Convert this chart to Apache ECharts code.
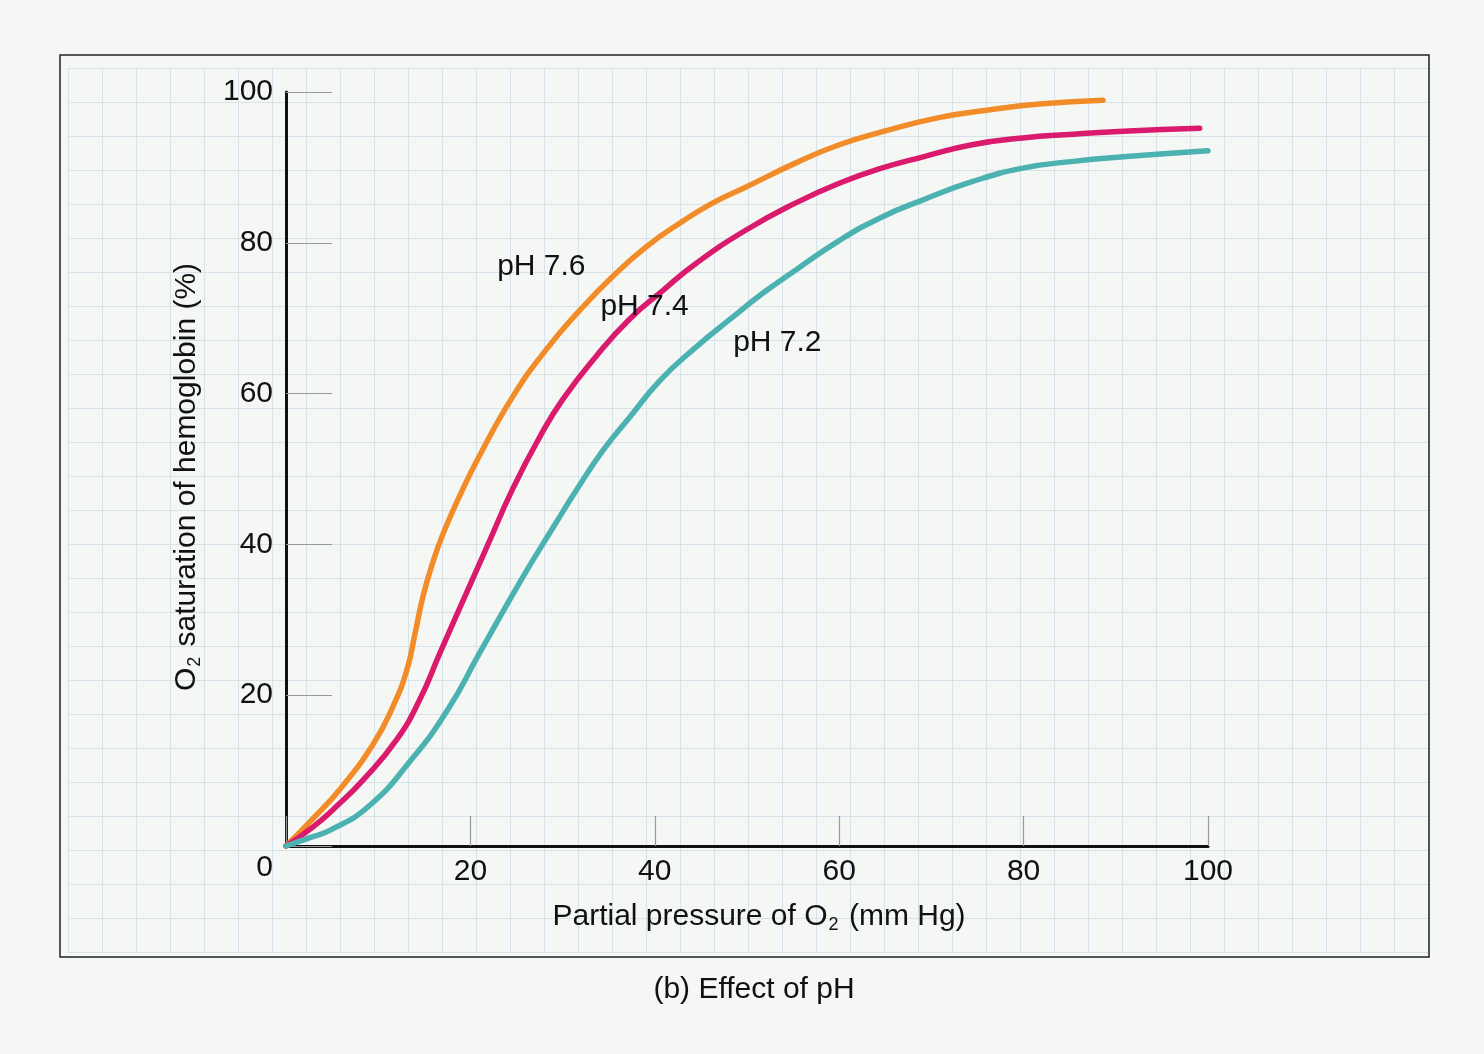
<!DOCTYPE html>
<html>
<head>
<meta charset="utf-8">
<script src="https://cdn.jsdelivr.net/npm/echarts@6/dist/echarts.min.js"></script>
<style>
  html, body { margin: 0; padding: 0; background: #f5f7f4; }
  #chart { width: 1484px; height: 1054px; }
</style>
</head>
<body>
<div id="chart"></div>
<script>
// curves: [pO2 (mm Hg), saturation (%)]
var ph76 = [[0,0],[2.9,3.6],[5.9,7.6],[9.5,13.6],[11.6,18.5],[13.1,23.3],[14.0,28.2],[14.9,33.3],[16.0,37.9],[17.1,41.6],[18.9,46.6],[21.0,51.8],[24.6,59.6],[28.2,65.8],[31.9,71.1],[35.4,75.5],[39.0,79.4],[42.7,82.6],[46.3,85.3],[49.9,87.4],[55.3,90.6],[60.0,93.0],[64.6,94.7],[70.8,96.6],[76.2,97.6],[81.7,98.4],[88.6,98.9]];
var ph74 = [[0,0],[2.9,2.5],[5.6,5.4],[8.4,8.8],[12.0,14.1],[14.5,19.4],[16.7,25.6],[18.9,31.7],[21.8,39.7],[24.6,47.4],[27.5,54.2],[30.0,59.2],[33.6,64.9],[37.2,69.8],[40.9,73.7],[44.5,77.3],[49.9,81.7],[55.3,85.3],[60.0,87.9],[64.6,89.9],[69.1,91.4],[74.4,93.0],[79.9,93.9],[85.4,94.4],[90.8,94.8],[99.1,95.2]];
var ph72 = [[0,0],[2.6,1.1],[4.8,2.1],[9.0,5.3],[13.5,11.3],[17.5,18.0],[21.0,25.6],[25.7,35.7],[29.0,42.3],[31.5,47.2],[34.4,52.5],[37.3,56.9],[40.6,61.8],[44.5,66.2],[48.1,69.8],[51.7,73.3],[55.3,76.4],[60.0,80.3],[64.6,83.4],[69.1,85.7],[74.4,88.1],[79.9,89.9],[85.4,90.8],[90.8,91.4],[100,92.2]];

var curveNames = ['pH 7.6', 'pH 7.4', 'pH 7.2'];
var curveColors = ['#f28c28', '#d91a6d', '#4bb1b1'];
// where the curve labels sit, in data units
var labelPos = [[22.9, 76.8], [34.1, 71.5], [48.5, 66.8]];

var xTicks = [0, 20, 40, 60, 80, 100];
var yTicks = [0, 20, 40, 60, 80, 100];

var font = 'Liberation Sans, Arial, Helvetica, sans-serif';
var fs = 30;

var dom = document.getElementById('chart');
var myChart = echarts.init(dom);

function curve(name, data, color) {
    return {
        name: name,
        type: 'line',
        xAxisIndex: 0,
        yAxisIndex: 0,
        data: data,
        smooth: 0.5,
        showSymbol: false,
        lineStyle: { color: color, width: 5.5, cap: 'round' },
        z: 3
    };
}

var option = {
    backgroundColor: '#f5f7f4',
    animation: false,
    textStyle: { fontFamily: font },
    title: {
        text: '(b) Effect of pH',
        left: 749,
        top: 970,
        textAlign: 'center',
        textStyle: { fontFamily: font, fontSize: fs, fontWeight: 'normal', color: '#111' }
    },
    graphic: [{
        type: 'rect',
        shape: { x: 60, y: 55, width: 1369, height: 902 },
        style: { fill: 'none', stroke: '#222', lineWidth: 1.5 },
        z: 10
    }],
    grid: [
        { left: 286, top: 92, width: 922, height: 754 },
        // graph-paper background
        { left: 68, top: 68, width: 1360, height: 884 }
    ],
    xAxis: [{
        type: 'value',
        gridIndex: 0,
        min: 0, max: 100, interval: 20,
        axisLine: { show: true, lineStyle: { color: '#111', width: 3 } },
        axisTick: { show: true, inside: true, length: 30, lineStyle: { color: '#999', width: 1.2 } },
        axisLabel: {
            margin: 11, fontSize: fs, color: '#111', fontFamily: font,
            formatter: function (v) { return v === 0 ? '' : xTicks.indexOf(v) >= 0 ? String(v) : ''; }
        },
        splitLine: { show: false },
        name: '{a|Partial pressure of O}{s|2}{a| (mm Hg)}',
        nameLocation: 'middle',
        nameGap: 54,
        nameTextStyle: {
            padding: [0, 0, 0, 24],
            rich: {
                a: { fontSize: fs, color: '#111', fontFamily: font },
                s: { fontSize: 18, color: '#111', fontFamily: font, padding: [16, 2, 0, 1] }
            }
        }
    }, {
        type: 'value',
        gridIndex: 1,
        min: 0, max: 1360, interval: 34,
        axisLine: { show: false }, axisTick: { show: false }, axisLabel: { show: false },
        splitLine: { show: true, lineStyle: { color: '#d7e2ea', width: 1 } }
    }],
    yAxis: [{
        type: 'value',
        gridIndex: 0,
        min: 0, max: 100, interval: 20,
        axisLine: { show: true, lineStyle: { color: '#111', width: 3 } },
        axisTick: { show: true, inside: true, length: 46, lineStyle: { color: '#999', width: 1.2 } },
        axisLabel: {
            margin: 13, fontSize: fs, color: '#111', fontFamily: font,
            formatter: function (v) { return v === 0 ? '{z|0}' : String(v); },
            rich: { z: { fontSize: fs, color: '#111', fontFamily: font, padding: [44, 0, 0, 0] } }
        },
        splitLine: { show: false },
        name: '{a|O}{s|2}{a| saturation of hemoglobin (%)}',
        nameLocation: 'middle',
        nameGap: 82,
        nameTextStyle: {
            padding: [0, 16, 0, 0],
            rich: {
                a: { fontSize: fs, color: '#111', fontFamily: font },
                s: { fontSize: 18, color: '#111', fontFamily: font, padding: [16, 2, 0, 1] }
            }
        }
    }, {
        type: 'value',
        gridIndex: 1,
        min: 0, max: 884, interval: 34,
        axisLine: { show: false }, axisTick: { show: false }, axisLabel: { show: false },
        splitLine: { show: true, lineStyle: { color: '#d7e2ea', width: 1 } }
    }],
    series: [
        curve(curveNames[0], ph76, curveColors[0]),
        curve(curveNames[1], ph74, curveColors[1]),
        curve(curveNames[2], ph72, curveColors[2]),
        {
            name: 'labels',
            type: 'scatter',
            xAxisIndex: 0,
            yAxisIndex: 0,
            symbolSize: 0,
            data: labelPos.map(function (p, i) { return { value: p, name: curveNames[i] }; }),
            label: {
                show: true,
                position: 'right',
                distance: 0,
                formatter: '{b}',
                fontSize: fs,
                color: '#111',
                opacity: 1,
                textBorderWidth: 0,
                fontFamily: font
            },
            z: 5
        }
    ]
};

if (option && typeof option === 'object') {
    myChart.setOption(option, true);
}
</script>
</body>
</html>
